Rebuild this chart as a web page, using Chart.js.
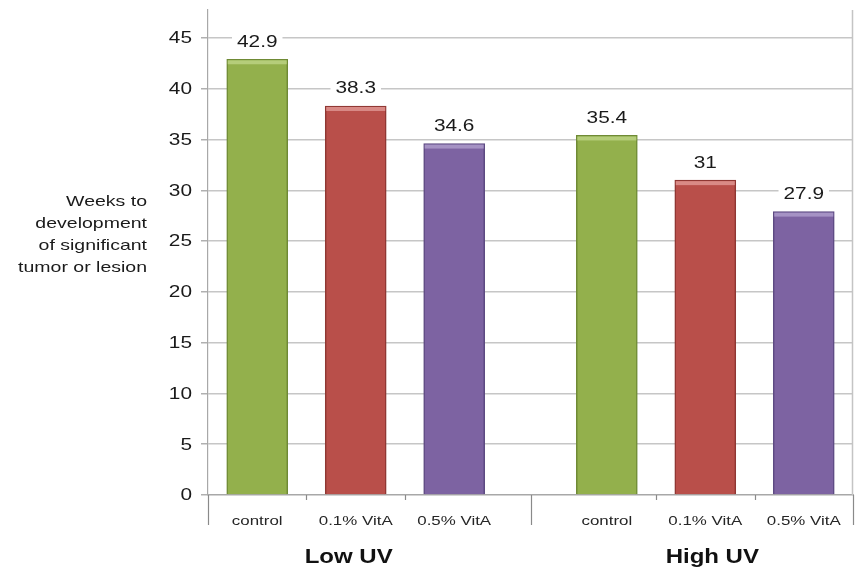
<!DOCTYPE html>
<html>
<head>
<meta charset="utf-8">
<script src="https://cdn.jsdelivr.net/npm/chart.js@4.4.0/dist/chart.umd.min.js"></script>
<style>
html,body{margin:0;padding:0;background:#fff;}
#wrap{position:relative;width:857px;height:574px;}
</style>
</head>
<body>
<div id="wrap"><canvas id="c" width="857" height="574"></canvas></div>
<script>
// ---- data ----
const categories = ['control', '0.1% VitA', '0.5% VitA'];
const groups = ['Low UV', 'High UV'];
const lowUV = [42.9, 38.3, 34.6];
const highUV = [35.4, 31, 27.9];
const yTicks = [0, 5, 10, 15, 20, 25, 30, 35, 40, 45];
const yTitleLines = ['Weeks to', 'development', 'of significant', 'tumor or lesion'];

// ---- styling ----
const fills = ['#93b04c', '#b94f4a', '#7d63a2'];
const tops = ['#b5cd7a', '#d98a86', '#a592c4'];
const borders = ['#6f8a35', '#8f3733', '#5d4a82'];
const GROUP_GAP = 3.55; // offset of second group on the linear x scale
const FONT = '"Liberation Sans", Arial, Helvetica, sans-serif';
const SX = 1.3; // the reference's lettering is horizontally wide

const seriesByGroup = [lowUV, highUV];
const points = [];
const bg = [], bc = [], tc = [];
seriesByGroup.forEach((vals, g) => {
  vals.forEach((v, i) => {
    points.push({x: i + g * GROUP_GAP, y: v});
    bg.push(fills[i]); bc.push(borders[i]); tc.push(tops[i]);
  });
});
const tickPos = points.map(p => p.x);
const tickLab = [];
groups.forEach(() => categories.forEach(c => tickLab.push(c)));

function wideText(ctx, t, x, y, align, sx) {
  ctx.save();
  ctx.translate(x, y);
  ctx.scale(sx, 1);
  ctx.textAlign = align;
  ctx.fillText(t, 0, 0);
  ctx.restore();
}

const decor = {
  id: 'decor',
  beforeDraw(chart) {
    const {ctx} = chart;
    ctx.save();
    ctx.fillStyle = '#fff';
    ctx.fillRect(0, 0, chart.width, chart.height);
    ctx.restore();
  },
  beforeDatasetsDraw(chart) {
    const {ctx, chartArea: a} = chart;
    ctx.save();
    ctx.strokeStyle = '#c4c4c4';
    ctx.lineWidth = 1.5;
    const px = Math.round(a.right) - 0.5;
    ctx.beginPath(); ctx.moveTo(px, a.top); ctx.lineTo(px, a.bottom); ctx.stroke();
    ctx.restore();
  },
  afterDatasetsDraw(chart) {
    const {ctx} = chart;
    const meta = chart.getDatasetMeta(0);
    const xs = chart.scales.x;
    const ys = chart.scales.y;
    const a = chart.chartArea;
    ctx.save();
    // bevel highlight at bar tops
    meta.data.forEach((el, i) => {
      const w = el.width;
      ctx.fillStyle = tc[i];
      ctx.fillRect(el.x - w / 2 + 1, el.y + 1, w - 2, 4);
    });
    // value labels
    ctx.font = '16px ' + FONT;
    ctx.textBaseline = 'middle';
    meta.data.forEach((el, i) => {
      const t = String(points[i].y);
      const tw = ctx.measureText(t).width * SX;
      const cy = el.y - 18;
      ctx.fillStyle = '#fff';
      ctx.fillRect(el.x - tw / 2 - 5, cy - 9, tw + 10, 18);
      ctx.fillStyle = '#1a1a1a';
      wideText(ctx, t, el.x, cy + 1, 'center', SX);
    });
    // y tick labels
    ctx.font = '16px ' + FONT;
    ctx.fillStyle = '#1a1a1a';
    ys.ticks.forEach(t => {
      wideText(ctx, String(t.value), a.left - 16, ys.getPixelForValue(t.value) + 1, 'right', SX);
    });
    // x category labels
    ctx.font = '13px ' + FONT;
    ctx.fillStyle = '#262626';
    xs.ticks.forEach((t, i) => {
      wideText(ctx, tickLab[i], xs.getPixelForValue(t.value), a.bottom + 26, 'center', SX);
    });
    // x-axis separators
    ctx.strokeStyle = '#8a8a8a';
    ctx.lineWidth = 1.2;
    const longT = [-0.5, (2 + GROUP_GAP) / 2, 2 + GROUP_GAP + 0.5];
    const shortT = [0.5, 1.5, GROUP_GAP + 0.5, GROUP_GAP + 1.5];
    longT.forEach(v => {
      const px = Math.round(xs.getPixelForValue(v)) + 0.5;
      ctx.beginPath(); ctx.moveTo(px, a.bottom); ctx.lineTo(px, a.bottom + 30); ctx.stroke();
    });
    shortT.forEach(v => {
      const px = Math.round(xs.getPixelForValue(v)) + 0.5;
      ctx.beginPath(); ctx.moveTo(px, a.bottom); ctx.lineTo(px, a.bottom + 5); ctx.stroke();
    });
    // group labels
    ctx.font = 'bold 20px ' + FONT;
    ctx.fillStyle = '#111';
    groups.forEach((g, gi) => {
      const px = xs.getPixelForValue(1 + gi * GROUP_GAP);
      wideText(ctx, g, px - 7 + gi * 14, a.bottom + 62, 'center', 1.2);
    });
    // y title lines
    ctx.font = '15px ' + FONT;
    ctx.fillStyle = '#1a1a1a';
    yTitleLines.forEach((l, i) => wideText(ctx, l, 147, 202 + i * 22, 'right', SX));
    ctx.restore();
  }
};

new Chart(document.getElementById('c'), {
  type: 'bar',
  data: {
    datasets: [{
      data: points,
      backgroundColor: bg,
      borderColor: bc,
      borderWidth: {left: 1.5, right: 1.5, top: 1.5, bottom: 0},
      barThickness: 61,
      borderSkipped: false
    }]
  },
  plugins: [decor],
  options: {
    responsive: false,
    animation: false,
    events: [],
    layout: {padding: {top: 10, right: 4, left: 0, bottom: 0}},
    plugins: {legend: {display: false}, tooltip: {enabled: false}},
    scales: {
      x: {
        type: 'linear',
        offset: false,
        min: -0.5,
        max: 2 + GROUP_GAP + 0.5,
        afterFit(s) { s.height = 79; s.paddingLeft = 0; s.paddingRight = 0; },
        afterBuildTicks(s) { s.ticks = tickPos.map(v => ({value: v})); },
        grid: {display: false, drawTicks: false, offset: false},
        border: {display: true, color: '#a8a8a8', width: 1.2},
        ticks: {display: false, autoSkip: false, maxRotation: 0}
      },
      y: {
        min: 0,
        max: 47.75,
        afterFit(s) { s.width = 208; s.paddingTop = 0; s.paddingBottom = 0; },
        afterBuildTicks(s) { s.ticks = yTicks.map(v => ({value: v})); },
        grid: {color: '#c6c6c6', lineWidth: 1.5, tickLength: 7, drawTicks: true, tickColor: '#b0b0b0'},
        border: {display: true, color: '#a8a8a8', width: 1.2},
        ticks: {display: false}
      }
    }
  }
});
</script>
</body>
</html>
